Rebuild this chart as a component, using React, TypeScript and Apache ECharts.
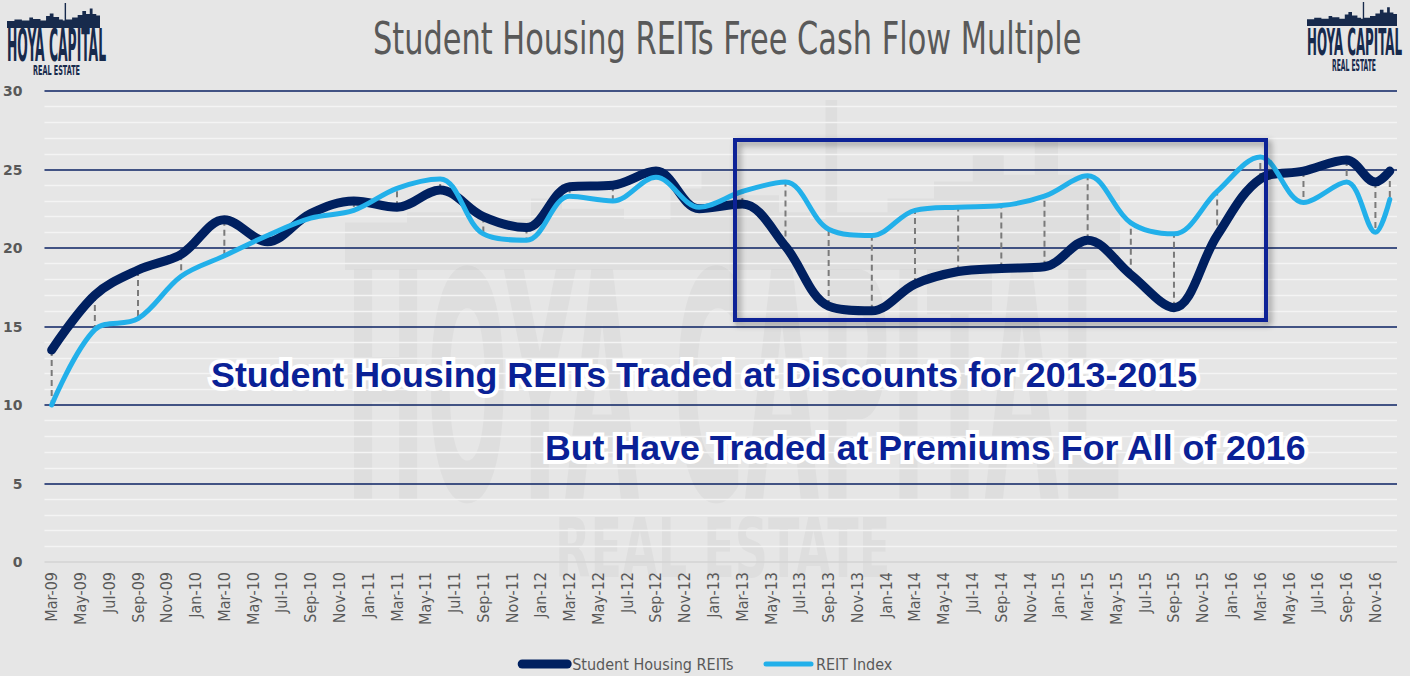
import React, { useEffect, useRef } from 'react';
import * as echarts from 'echarts';

// ---------- data ----------
const MONTH_NAMES = ['Jan', 'Feb', 'Mar', 'Apr', 'May', 'Jun', 'Jul', 'Aug', 'Sep', 'Oct', 'Nov', 'Dec'];
const YEAR_SUFFIXES = ['09', '10', '11', '12', '13', '14', '15', '16'];
const FIRST_MONTH = 'Mar-09';
const LAST_MONTH = 'Dec-16';

const allMonths: string[] = [];
YEAR_SUFFIXES.forEach((y) => MONTH_NAMES.forEach((m) => allMonths.push(`${m}-${y}`)));
const monthCategories = allMonths.slice(allMonths.indexOf(FIRST_MONTH), allMonths.indexOf(LAST_MONTH) + 1);

const sampleDates = [
  'Mar-09', 'Jun-09', 'Sep-09', 'Dec-09', 'Mar-10', 'Jun-10', 'Sep-10', 'Dec-10',
  'Mar-11', 'Jun-11', 'Sep-11', 'Dec-11', 'Mar-12', 'Jun-12', 'Sep-12', 'Dec-12',
  'Mar-13', 'Jun-13', 'Sep-13', 'Dec-13', 'Mar-14', 'Jun-14', 'Sep-14', 'Dec-14',
  'Mar-15', 'Jun-15', 'Sep-15', 'Dec-15', 'Mar-16', 'Jun-16', 'Sep-16', 'Nov-16', 'Dec-16',
];
const studentHousing = [
  13.5, 17.0, 18.6, 19.6, 21.8, 20.4, 22.2, 23.0,
  22.6, 23.7, 22.0, 21.3, 23.9, 24.0, 24.9, 22.5,
  22.8, 20.1, 16.3, 16.0, 17.7, 18.5, 18.7, 18.8,
  20.5, 18.3, 16.2, 20.8, 24.4, 24.9, 25.6, 24.2, 24.9,
];
const reitIndex = [
  10.0, 14.8, 15.5, 18.2, 19.5, 20.8, 21.9, 22.4,
  23.8, 24.4, 20.9, 20.5, 23.3, 23.0, 24.5, 22.6,
  23.6, 24.2, 21.2, 20.8, 22.4, 22.6, 22.7, 23.3,
  24.6, 21.6, 20.9, 23.6, 25.8, 22.9, 24.2, 21.0, 23.1,
];
const Y_MIN = 0;
const Y_MAX = 30;
const Y_STEP = 5;

const SERIES_NAMES = ['Student Housing REITs', 'REIT Index'];
const TITLE = 'Student Housing REITs Free Cash Flow Multiple';
const NOTE_1 = 'Student Housing REITs Traded at Discounts for 2013-2015';
const NOTE_2 = 'But Have Traded at Premiums For All of 2016';

// ---------- styling helpers ----------
const COND = "'DejaVu Sans Condensed', 'DejaVu Sans', sans-serif";
const ARIAL = "'Liberation Sans', Arial, sans-serif";
const GRAY = '#595959';
const NAVY = '#002060';
const LIGHT = '#22b0ea';
const LOGO = '#172a4c';

function measure(text: string, font: string): number {
  const ctx = document.createElement('canvas').getContext('2d') as CanvasRenderingContext2D;
  ctx.font = font;
  return ctx.measureText(text).width || 1;
}

// text placed by left edge, target width and cap-height, centred on capCenter
function fitText(text: string, left: number, capCenter: number, width: number, capH: number,
  family: string, weight: string, fill: string, capRatio: number, extra: any = {}) {
  const fontSize = capH / capRatio;
  const font = `${weight} ${fontSize}px ${family}`;
  const sx = width / measure(text, font);
  return {
    type: 'text',
    x: left,
    y: capCenter,
    scaleX: sx,
    silent: true,
    ...extra,
    style: {
      text,
      fill,
      fontSize,
      fontFamily: family,
      fontWeight: weight,
      textAlign: 'left',
      textVerticalAlign: 'middle',
      ...(extra.style || {}),
    },
  };
}

const SKY = [
  [0, 0.28], [0.08, 0.34], [0.16, 0.3], [0.24, 0.42], [0.28, 0.36], [0.36, 0.3],
  [0.42, 0.48], [0.46, 0.58], [0.5, 0.44], [0.56, 0.34], [0.6, 0.3], [0.62, 1.0],
  [0.635, 0.34], [0.7, 0.42], [0.76, 0.52], [0.81, 0.68], [0.85, 0.56], [0.89, 0.78],
  [0.92, 0.56], [0.96, 0.5], [1, 0.5],
];
function skyline(x0: number, yBase: number, w: number, h: number, fill: string, z = 50) {
  const pts: number[][] = [[x0, yBase]];
  for (let i = 0; i < SKY.length - 1; i++) {
    const top = yBase - SKY[i][1] * h;
    pts.push([x0 + SKY[i][0] * w, top], [x0 + SKY[i + 1][0] * w, top]);
  }
  pts.push([x0 + w, yBase]);
  return { type: 'polygon', silent: true, z, shape: { points: pts }, style: { fill } };
}

function logo(x: number, skyTop: number, skyW: number, skyH: number,
  hoyaX: number, hoyaC: number, hoyaW: number, hoyaH: number,
  reX: number, reC: number, reW: number, reH: number) {
  return [
    skyline(x, skyTop + skyH, skyW, skyH, LOGO),
    fitText('HOYA CAPITAL', hoyaX, hoyaC, hoyaW, hoyaH, COND, 'bold', LOGO, 0.73, { z: 50 }),
    fitText('REAL ESTATE', reX, reC, reW, reH, COND, 'bold', LOGO, 0.73, { z: 50 }),
  ];
}

export default function App() {
  const ref = useRef<HTMLDivElement>(null);

  useEffect(() => {
    if (!ref.current) return;
    const chart = echarts.init(ref.current, undefined, { renderer: 'svg' });

    const idx = sampleDates.map((d) => monthCategories.indexOf(d));
    const shData = idx.map((x, i) => [x, studentHousing[i]]);
    const reitData = idx.map((x, i) => [x, reitIndex[i]]);
    const dropData = idx.map((x, i) => [x, studentHousing[i], reitIndex[i]]);

    const wmFill = 'rgba(0,0,0,0.03)';
    const noteExtraShadow = {
      shadowColor: 'rgba(0,0,0,0.45)', shadowBlur: 7, shadowOffsetX: 2, shadowOffsetY: 4,
    };

    const graphics: any[] = [
      // faint watermark
      skyline(345, 270, 775, 170, wmFill, 0),
      fitText('HOYA CAPITAL', 345, 390, 775, 230, COND, 'bold', wmFill, 0.73, { z: 0 }),
      fitText('REAL ESTATE', 555, 548, 335, 60, COND, 'bold', wmFill, 0.73, { z: 0 }),
      // title
      fitText(TITLE, 373, 39, 709, 32, COND, 'normal', GRAY, 0.73, { z: 50 }),
      // logos
      ...logo(7, 3, 93, 25, 7, 46, 99, 32, 33, 71, 47, 10),
      ...logo(1307, 2, 90, 24, 1307, 42, 95, 27, 1332, 66, 44, 11),
      // highlight rectangle
      {
        type: 'rect', z: 90, silent: true,
        shape: { x: 735, y: 140, width: 531, height: 180 },
        style: {
          fill: 'none', stroke: '#0a2196', lineWidth: 4,
          shadowColor: 'rgba(0,0,0,0.4)', shadowBlur: 6, shadowOffsetX: 3, shadowOffsetY: 3,
        },
      },
      // annotation outlines (white halo)
      fitText(NOTE_1, 211, 375.5, 987, 25.6, ARIAL, 'bold', '#ffffff', 0.716, {
        z: 95, style: { stroke: '#ffffff', lineWidth: 8, lineJoin: 'round', ...noteExtraShadow },
      }),
      fitText(NOTE_2, 545, 448, 762, 25.6, ARIAL, 'bold', '#ffffff', 0.716, {
        z: 95, style: { stroke: '#ffffff', lineWidth: 8, lineJoin: 'round', ...noteExtraShadow },
      }),
      // annotation fill
      fitText(NOTE_1, 211, 375.5, 987, 25.6, ARIAL, 'bold', '#0a2196', 0.716, { z: 96 }),
      fitText(NOTE_2, 545, 448, 762, 25.6, ARIAL, 'bold', '#0a2196', 0.716, { z: 96 }),
    ];

    const majorColors = ['#d3d3d3'];
    for (let v = Y_MIN + Y_STEP; v <= Y_MAX; v += Y_STEP) majorColors.push('#0b2263');

    chart.setOption({
      animation: false,
      backgroundColor: '#e6e6e6',
      textStyle: { fontFamily: COND },
      grid: { left: 41, right: 13, top: 91, bottom: 114, containLabel: false },
      legend: {
        data: [
          { name: SERIES_NAMES[0], itemStyle: { opacity: 0 }, lineStyle: { width: 9, cap: 'round', color: NAVY } },
          { name: SERIES_NAMES[1], itemStyle: { opacity: 0 }, lineStyle: { width: 5, cap: 'round', color: LIGHT } },
        ],
        top: 651,
        left: 'center',
        itemWidth: 45,
        itemHeight: 12,
        itemGap: 30,
        textStyle: { color: GRAY, fontSize: 16, fontFamily: COND },
      },
      xAxis: {
        type: 'category',
        data: monthCategories,
        boundaryGap: true,
        axisLine: { show: false },
        axisTick: { show: false },
        splitLine: { show: false },
        axisLabel: {
          interval: 1,
          rotate: 90,
          margin: 10,
          color: GRAY,
          fontSize: 16,
          fontFamily: COND,
        },
      },
      yAxis: {
        type: 'value',
        min: Y_MIN,
        max: Y_MAX,
        interval: Y_STEP,
        axisLine: { show: false },
        axisTick: { show: false },
        axisLabel: {
          margin: 22,
          color: GRAY,
          fontSize: 14,
          fontWeight: 'bold',
          fontFamily: "'DejaVu Sans', sans-serif",
        },
        splitLine: { show: true, lineStyle: { color: majorColors, width: 1.6 } },
        minorTick: { show: false, splitNumber: 5 },
        minorSplitLine: { show: true, lineStyle: { color: '#f4f4f4', width: 1.4 } },
      },
      series: [
        {
          type: 'custom',
          name: 'drop',
          silent: true,
          data: dropData,
          encode: { x: 0, y: [1, 2] },
          renderItem: (params: any, api: any) => {
            const xi = api.value(0);
            const a = api.coord([xi, api.value(1)]);
            const b = api.coord([xi, api.value(2)]);
            return {
              type: 'line',
              shape: { x1: a[0], y1: a[1], x2: b[0], y2: b[1] },
              style: { stroke: '#7a7a7a', lineWidth: 2, lineDash: [6, 4] },
            };
          },
        },
        {
          type: 'line',
          name: SERIES_NAMES[0],
          data: shData,
          smooth: 0.35,
          symbol: 'none',
          color: NAVY,
          lineStyle: { color: NAVY, width: 9, cap: 'round', join: 'round' },
        },
        {
          type: 'line',
          name: SERIES_NAMES[1],
          data: reitData,
          smooth: 0.35,
          symbol: 'none',
          color: LIGHT,
          lineStyle: { color: LIGHT, width: 5, cap: 'round', join: 'round' },
        },
      ],
      graphic: { elements: graphics },
    });

    return () => chart.dispose();
  }, []);

  return (
    <div
      ref={ref}
      style={{ position: 'absolute', left: 0, top: 0, width: 1410, height: 676 }}
    />
  );
}
